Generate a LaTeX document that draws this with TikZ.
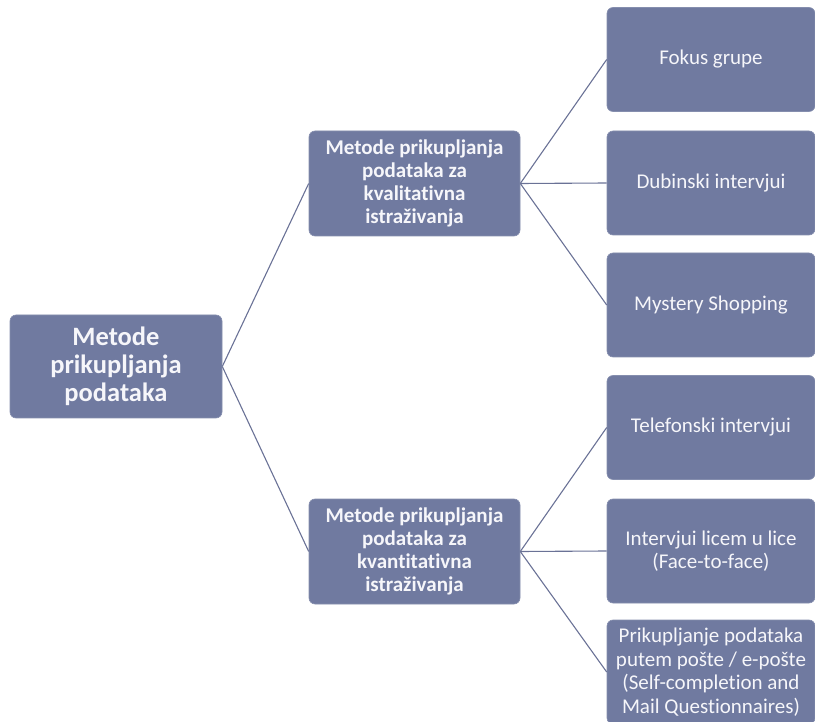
\documentclass[tikz,border=0pt]{standalone}
\usepackage{fontspec}
\setmainfont{Carlito}[Ligatures=NoCommon]
\definecolor{boxfill}{RGB}{112,122,160}
\definecolor{linec}{RGB}{106,114,150}
\definecolor{txt}{RGB}{246,246,250}
\begin{document}
\begin{tikzpicture}[x=1pt,y=-1pt,
  box/.style={draw=boxfill!85!white,line width=0.6pt,fill=boxfill,rounded corners=6pt,text=txt,align=center,inner sep=0pt},
  rootbox/.style={box,minimum width=212pt,minimum height=103pt,font=\fontsize{26.5}{28}\selectfont\bfseries},
  midbox/.style={box,minimum width=211pt,minimum height=105pt,font=\fontsize{21}{23}\selectfont\bfseries},
  leafbox/.style={box,minimum width=208pt,minimum height=104pt,font=\fontsize{21}{23.5}\selectfont},
  conn/.style={draw=linec,line width=1.1pt}]
\useasboundingbox (0,0) rectangle (815,722);
\clip (0,0) rectangle (815,722);
\node[rootbox] (root) at (116,366.5) {Metode\\prikupljanja\\podataka};
\node[midbox] (m1) at (414.5,183.5) {Metode prikupljanja\\podataka za\\kvalitativna\\istraživanja};
\node[midbox] (m2) at (414.5,551.5) {Metode prikupljanja\\podataka za\\kvantitativna\\istraživanja};
\node[leafbox] (l1) at (711,59.5) {Fokus grupe};
\node[leafbox] (l2) at (711,183) {Dubinski intervjui};
\node[leafbox] (l3) at (711,305) {Mystery Shopping};
\node[leafbox] (l4) at (711,427.5) {Telefonski intervjui};
\node[leafbox] (l5) at (711,551) {Intervjui licem u lice\\(Face-to-face)};
\node[leafbox,minimum height=104pt] (l6) at (711,672) {Prikupljanje podataka\\putem pošte / e-pošte\\(Self-completion and\\Mail Questionnaires)};
\draw[conn] (root.east) -- (m1.west);
\draw[conn] (root.east) -- (m2.west);
\draw[conn] (m1.east) -- (l1.west);
\draw[conn] (m1.east) -- (l2.west);
\draw[conn] (m1.east) -- (l3.west);
\draw[conn] (m2.east) -- (l4.west);
\draw[conn] (m2.east) -- (l5.west);
\draw[conn] (m2.east) -- (l6.west);
\end{tikzpicture}
\end{document}
